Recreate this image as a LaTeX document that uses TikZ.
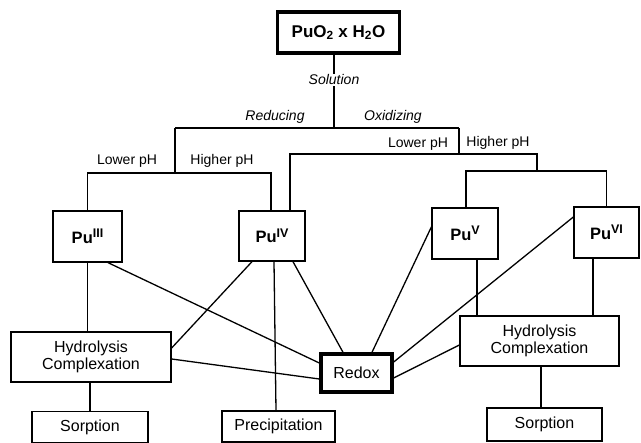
\documentclass[tikz,border=0pt]{standalone}
\usepackage{fontspec}
\setmainfont{Liberation Sans}
\newcommand{\pusup}[1]{\raisebox{5.5pt}{\fontsize{12.5}{13}\selectfont #1}}
\begin{document}
\tikzset{
  box/.style={draw, line width=1.3pt, inner sep=0pt, align=center, font=\fontsize{16}{17}\selectfont},
  thickbox/.style={box, line width=3.4pt},
  pubox/.style={box, font=\fontsize{16.5}{17}\selectfont\bfseries},
  lbl/.style={font=\fontsize{14}{16}\selectfont, inner sep=1pt},
  ilbl/.style={font=\fontsize{14}{16}\selectfont\itshape, inner sep=1pt},
  conn/.style={line width=1.3pt},
}
\begin{tikzpicture}[x=1pt,y=-1pt]
\useasboundingbox (0,0) rectangle (641,443);
% nodes
\node[thickbox, font=\fontsize{17}{18}\selectfont\bfseries, minimum width=122pt, minimum height=41pt] (top) at (338.5,32.5) {PuO\textsubscript{2} x H\textsubscript{2}O};
\node[pubox, minimum width=69pt, minimum height=51pt] (p3) at (87.5,236.5) {Pu\pusup{III}};
\node[pubox, minimum width=66pt, minimum height=50pt] (p4) at (272,236) {Pu\pusup{IV}};
\node[pubox, minimum width=66pt, minimum height=51pt] (p5) at (465,233.5) {Pu\pusup{V}};
\node[pubox, minimum width=65pt, minimum height=51pt] (p6) at (606.5,232.5) {Pu\pusup{VI}};
\node[box, minimum width=160pt, minimum height=50pt] (hl) at (91,357) {Hydrolysis\\Complexation};
\node[box, minimum width=159pt, minimum height=50pt] (hr) at (539.5,341) {Hydrolysis\\Complexation};
\node[thickbox, minimum width=71pt, minimum height=38pt] (redox) at (356.5,373) {Redox};
\node[box, minimum width=116pt, minimum height=31pt] (sl) at (90,427) {Sorption};
\node[box, minimum width=113pt, minimum height=31pt] (pr) at (278.5,426.5) {Precipitation};
\node[box, minimum width=115pt, minimum height=33pt] (sr) at (544.5,424.5) {Sorption};
% tree
\coordinate (j0) at (334,128);
\coordinate (jl) at (175,128);
\coordinate (jr) at (459,128);
\coordinate (jl2) at (175,173);
\coordinate (jr2) at (459,154);
\coordinate (jr3) at (537,154);
\coordinate (jr4) at (537,171);
\draw[conn] ([xshift=-4.5pt]top.south) -- (j0);
\node[ilbl, fill=white] (sol) at (334,80) {Solution};
\draw[conn] (jl) -- (jr);
\node[ilbl] (red) at (275,117) {Reducing};
\node[ilbl] (oxi) at (393,117) {Oxidizing};
\draw[conn] (jl) -- (jl2);
\draw[conn] (p3.north) |- (jl2) -| ([xshift=-1pt]p4.north);
\node[lbl] (lpl) at (127,161) {Lower pH};
\node[lbl] (hpl) at (222,161) {Higher pH};
\draw[conn] (jr) -- (jr2);
\draw[conn] ([xshift=18pt]p4.north) |- (jr3) -- (jr4);
\draw[conn] ([xshift=1pt]p5.north) |- (jr4) -| (p6.north);
\node[lbl] (lpr) at (418,144) {Lower pH};
\node[lbl] (hpr) at (498,143) {Higher pH};
% connections
\draw[conn] (p3.south) -- (p3.south |- hl.north);
\draw[conn] (sl.north |- hl.south) -- (sl.north);
\draw[conn] ([xshift=20.5pt]p3.south) -- ([yshift=10pt]redox.west);
\draw[conn] ([yshift=-2pt]hl.east) -- ([yshift=-6pt]redox.west);
\draw[conn] ([xshift=-20pt]p4.south) -- ([yshift=9pt]hl.east);
\draw[conn] ([xshift=2pt]p4.south) -- ([xshift=-2.5pt]pr.north);
\draw[conn] ([xshift=21pt]p4.south) -- ([xshift=-13.5pt]redox.north);
\draw[conn] ([yshift=6.5pt]p5.west) -- ([xshift=15.5pt]redox.north);
\draw[conn] ([yshift=15.5pt]p6.west) -- ([yshift=11pt]redox.east);
\draw[conn] ([yshift=-4pt]hr.west) -- ([yshift=-5pt]redox.east);
\draw[conn] ([xshift=12pt]p5.south) -- ([xshift=-62.5pt]hr.north);
\draw[conn] ([xshift=-13.5pt]p6.south) -- ([xshift=53.5pt]hr.north);
\draw[conn] ([xshift=1.5pt]hr.south) -- ([xshift=-3.5pt]sr.north);
\end{tikzpicture}
\end{document}
